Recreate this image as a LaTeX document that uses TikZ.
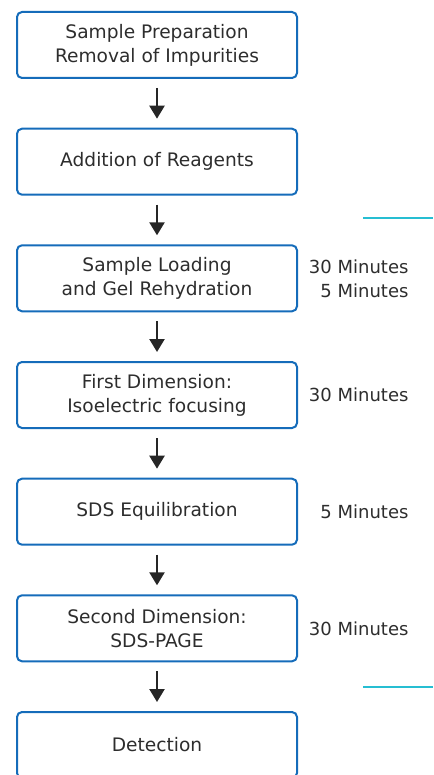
\documentclass[tikz,border=0pt]{standalone}
\usepackage{fontspec}
\setmainfont{DejaVu Sans}
\usetikzlibrary{arrows.meta}
\definecolor{boxblue}{RGB}{21,108,186}
\definecolor{linecyan}{RGB}{38,190,210}
\definecolor{txtgray}{RGB}{45,45,45}

\begin{document}
\begin{tikzpicture}[x=1pt, y=1pt,
    stage/.style={draw=boxblue, line width=2pt, rounded corners=5pt,
        minimum width=280pt, minimum height=66pt, align=center,
        text=txtgray, font=\fontsize{18.6}{24}\selectfont},
    timing/.style={anchor=east, align=right, text=txtgray,
        font=\fontsize{18}{24}\selectfont},
    flow/.style={-{Triangle[width=15pt,length=13pt]}, line width=2.4pt,
        draw=black!85, shorten <=9pt, shorten >=9pt}]
    \useasboundingbox (0,0) rectangle (433,-775);

    \node[stage] (prep) at (157,-45) {Sample Preparation\\Removal of Impurities};
    \node[stage] (reagents) at (157,-161.7) {Addition of Reagents};
    \node[stage] (loading) at (157,-278.3) {Sample Loading\\and Gel Rehydration};
    \node[stage] (ief) at (157,-395) {First Dimension:\\Isoelectric focusing};
    \node[stage] (equil) at (157,-511.7) {SDS Equilibration};
    \node[stage] (page) at (157,-628.3) {Second Dimension:\\SDS-PAGE};
    \node[stage] (detect) at (157,-745) {Detection};

    \draw[flow] (prep) -- (reagents);
    \draw[flow] (reagents) -- (loading);
    \draw[flow] (loading) -- (ief);
    \draw[flow] (ief) -- (equil);
    \draw[flow] (equil) -- (page);
    \draw[flow] (page) -- (detect);

    % timings
    \node[timing] (tload) at (412,-278.3) {30 Minutes\\5 Minutes};
    \node[timing] (tief) at (412,-395) {30 Minutes};
    \node[timing] (tequil) at (412,-511.7) {5 Minutes};
    \node[timing] (tpage) at (412,-628.3) {30 Minutes};

    % cyan marks at the right edge
    \draw[linecyan, line width=2pt] (363,-218) -- (433,-218);
    \draw[linecyan, line width=2pt] (363,-687) -- (433,-687);
\end{tikzpicture}
\end{document}
